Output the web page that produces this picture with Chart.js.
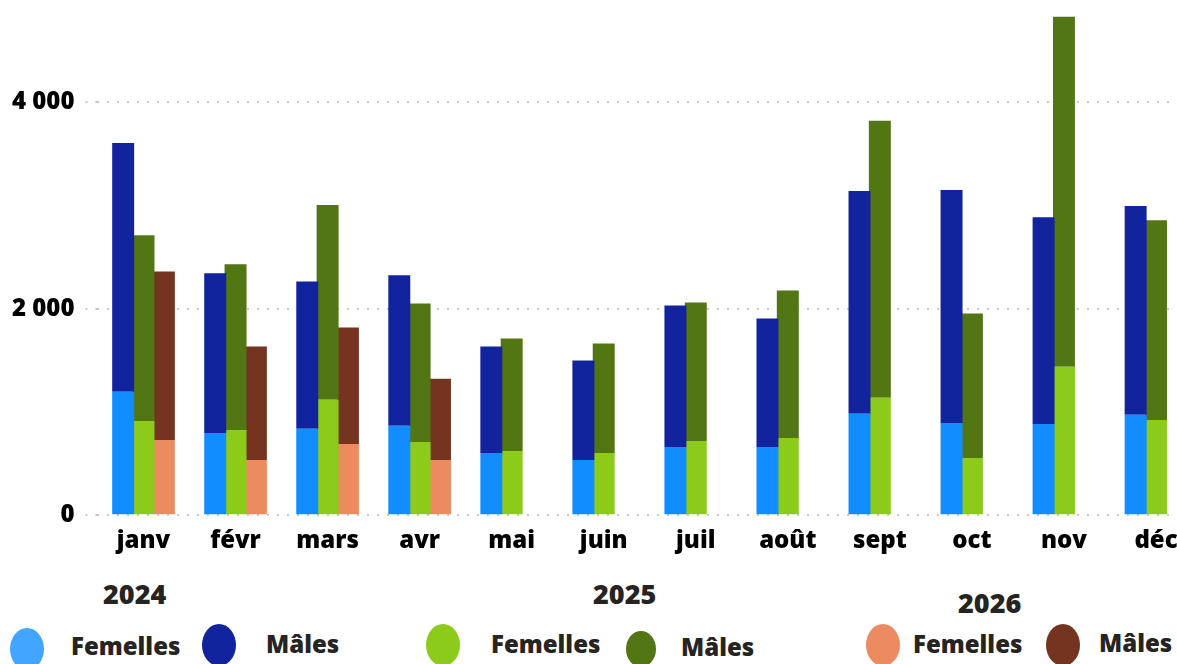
<!DOCTYPE html>
<html>
<head>
<meta charset="utf-8">
<script src="https://cdn.jsdelivr.net/npm/chart.js@4/dist/chart.umd.min.js"></script>
<style>
  html, body { margin: 0; padding: 0; background: #fff; overflow: hidden; }
  body { width: 1177px; height: 664px; position: relative; font-family: "Open Sans", sans-serif; }
  #wrap { position: absolute; left: 0; top: -9px; width: 1202px; height: 569px; }
  .lg { position: absolute; font-weight: 800; color: #252423; line-height: 1; white-space: nowrap; }
  .dot { position: absolute; border-radius: 50%; }
</style>
</head>
<body>
<div id="wrap"><canvas id="graphCanvas"></canvas></div>
<div id="legend"></div>
<script>
var months = ['janv', 'févr', 'mars', 'avr', 'mai', 'juin', 'juil', 'août', 'sept', 'oct', 'nov', 'déc'];
var years = ['2024', '2025', '2026'];

var femelles2024 = [1195, 797, 836, 865, 603, 535, 661, 661, 982, 894, 884, 972];
var males2024 = [2410, 1545, 1428, 1458, 1030, 962, 1370, 1244, 2157, 2255, 2002, 2021];
var femelles2025 = [913, 826, 1118, 709, 622, 603, 719, 748, 1137, 554, 1438, 923];
var males2025 = [1798, 1604, 1885, 1341, 1088, 1059, 1341, 1429, 2682, 1399, 3392, 1934];
var femelles2026 = [729, 535, 690, 535, null, null, null, null, null, null, null, null];
var males2026 = [1632, 1098, 1127, 787, null, null, null, null, null, null, null, null];

var yTickValues = [0, 2000, 4000];
var yTickLabels = ['0', '2 000', '4 000'];

showGraph();

function showGraph()
{
    var chartdata = {
        labels: months,
        datasets: [
            { label: 'Femelles', stack: '2024', data: femelles2024, backgroundColor: '#118DFF' },
            { label: 'Mâles', stack: '2024', data: males2024, backgroundColor: '#12239E' },
            { label: 'Femelles', stack: '2025', data: femelles2025, backgroundColor: '#8CCB19' },
            { label: 'Mâles', stack: '2025', data: males2025, backgroundColor: '#527614' },
            { label: 'Femelles', stack: '2026', data: femelles2026, backgroundColor: '#EC8B5F' },
            { label: 'Mâles', stack: '2026', data: males2026, backgroundColor: '#74341F' }
        ]
    };
    chartdata.datasets.forEach(function (ds) {
        ds.categoryPercentage = 0.663;
        ds.barPercentage = 1.08;
        ds.borderWidth = 0;
    });

    var graphTarget = document.getElementById("graphCanvas");

    new Chart(graphTarget, {
        type: 'bar',
        data: chartdata,
        options: {
            responsive: true,
            maintainAspectRatio: false,
            animation: false,
            layout: { padding: { left: 1, right: 0, top: 8, bottom: 0 } },
            plugins: {
                legend: { display: false },
                tooltip: { enabled: false }
            },
            scales: {
                x: {
                    stacked: true,
                    grid: { display: false },
                    border: { display: false },
                    ticks: {
                        color: '#000',
                        padding: 4,
                        font: { family: 'Open Sans', weight: 800, size: 24 }
                    }
                },
                y: {
                    stacked: true,
                    min: 0,
                    max: 4830,
                    afterBuildTicks: function (axis) {
                        axis.ticks = yTickValues.map(function (v) { return { value: v }; });
                    },
                    border: { display: false, dash: [2, 8] },
                    grid: {
                        color: '#c8c8c8',
                        lineWidth: 2,
                        drawTicks: true,
                        tickLength: 12,
                        tickColor: '#c8c8c8',
                        tickWidth: 2,
                        tickBorderDash: [2, 8]
                    },
                    ticks: {
                        color: '#000',
                        padding: 11,
                        font: { family: 'Open Sans', weight: 800, size: 24 },
                        callback: function (value) {
                            var i = yTickValues.indexOf(value);
                            return i >= 0 ? yTickLabels[i] : '';
                        }
                    }
                }
            }
        }
    });

    // legend: year titles above pairs of markers
    var markerColors = ['#42A5FF', '#12239E', '#8CCB19', '#527614', '#EC8B5F', '#74341F'];
    var titlePos = [[103, 604], [593, 604], [958, 613]];
    var dotPos = [[10, 628, 34, 42], [202, 624, 34, 42], [426, 624, 34, 42], [626, 631, 30, 36], [866, 624, 34, 42], [1046, 624, 34, 42]];
    var textPos = [[71, 655], [266, 653], [491, 653], [681, 656], [913, 653], [1099, 652]];
    var legend = document.getElementById('legend');

    function addText(txt, x, baseline, size) {
        var el = document.createElement('div');
        el.className = 'lg';
        el.textContent = txt;
        el.style.fontSize = size + 'px';
        el.style.left = x + 'px';
        el.style.top = (baseline - 0.888 * size) + 'px';
        legend.appendChild(el);
    }

    years.forEach(function (y, i) {
        addText(y, titlePos[i][0], titlePos[i][1], 27);
    });
    chartdata.datasets.forEach(function (ds, i) {
        var d = document.createElement('div');
        d.className = 'dot';
        d.style.left = dotPos[i][0] + 'px';
        d.style.top = dotPos[i][1] + 'px';
        d.style.width = dotPos[i][2] + 'px';
        d.style.height = dotPos[i][3] + 'px';
        d.style.background = markerColors[i];
        legend.appendChild(d);
        addText(ds.label, textPos[i][0], textPos[i][1], 24);
    });
}
</script>
</body>
</html>
